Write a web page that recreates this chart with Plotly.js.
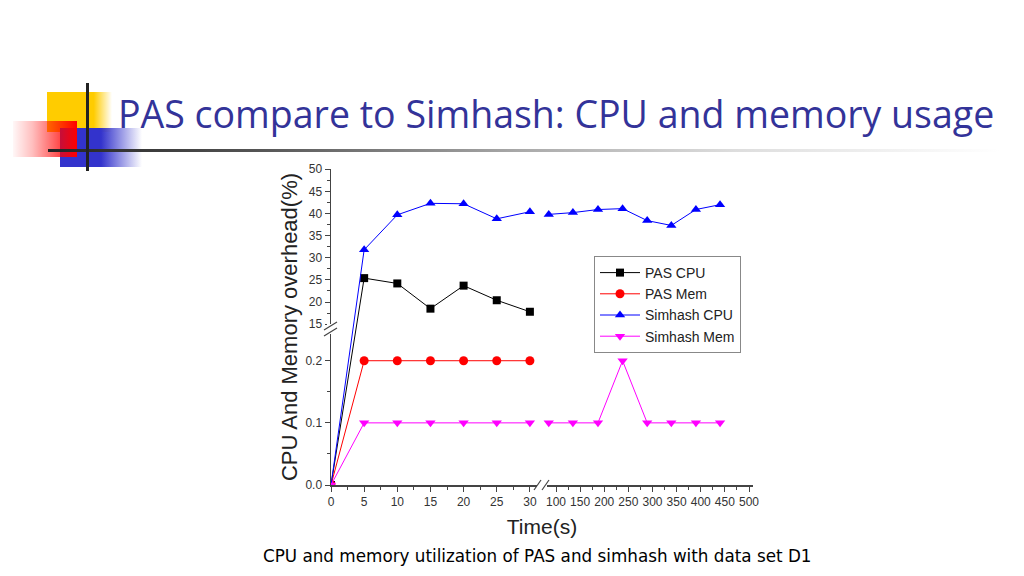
<!DOCTYPE html>
<html>
<head>
<meta charset="utf-8">
<script src="https://cdn.plot.ly/plotly-3.0.1.min.js"></script>
<style>html,body{margin:0;padding:0;background:#fff;}#chart{width:1024px;height:576px;}</style>
</head>
<body>
<div id="chart"></div>
<script>
// ---- data ----
const timesA = [0, 5, 10, 15, 20, 25, 30];
const timesB = [85, 135, 187, 238, 289, 339, 390, 440];
const pasCpu = [0, 25.4, 24.2, 18.5, 23.7, 20.4, 17.8];
const pasMem = [0, 0.2, 0.2, 0.2, 0.2, 0.2, 0.2];
const simCpuA = [0, 31.8, 39.7, 42.3, 42.2, 38.8, 40.4];
const simCpuB = [39.8, 40.2, 40.9, 41.1, 38.4, 37.3, 40.9, 42.0];
const simMemA = [0, 0.1, 0.1, 0.1, 0.1, 0.1, 0.1];
const simMemB = [0.1, 0.1, 0.1, 0.2, 0.1, 0.1, 0.1, 0.1];

const xTicksA = [0, 5, 10, 15, 20, 25, 30];
const xTicksB = [100, 150, 200, 250, 300, 350, 400, 450, 500];
const yTicksLow = [0, 0.1, 0.2];
const yTickTextLow = ['0.0', '0.1', '0.2'];
const yTicksHigh = [15, 20, 25, 30, 35, 40, 45, 50];

// ---- broken-axis scales (piecewise linear) ----
function gx(x) { return x <= 50 ? x * 6.63 : 225 + (x - 100) * 0.4825; }
function fy(v) { return v <= 1 ? v * 622 : 161 + (v - 15) * 4.43; }

// plot area in pixels
const L = 331, R = 753, T = 169, B = 485, W = 1024, H = 576;
const pw = R - L, ph = B - T;
function px(x) { return (x - L) / pw; }
function py(y) { return (B - y) / ph; }

function mids(a, f) { const o = []; for (let i = 0; i < a.length - 1; i++) o.push(f((a[i] + a[i + 1]) / 2)); return o; }

function series(name, a, b, color, symbol, size) {
  let x = timesA.map(gx), y = a.map(fy);
  if (b) { x = x.concat([null], timesB.map(gx)); y = y.concat([null], b.map(fy)); }
  return {
    type: 'scatter', mode: 'lines+markers', name: name, x: x, y: y,
    connectgaps: false,
    line: { color: color, width: 1 },
    marker: { color: color, symbol: symbol, size: size }
  };
}

const traces = [
  series('PAS CPU', pasCpu, null, '#000000', 'square', 8),
  series('PAS Mem', pasMem, null, '#ff0000', 'circle', 9),
  series('Simhash CPU', simCpuA, simCpuB, '#0000ff', 'triangle-up', 9),
  series('Simhash Mem', simMemA, simMemB, '#ff00ff', 'triangle-down', 9)
];

// ---- decorative slide graphics ----
const deco = "<svg xmlns='http://www.w3.org/2000/svg' width='1024' height='576' viewBox='0 0 1024 576'>" +
  "<defs>" +
  "<linearGradient id='gy'><stop offset='0' stop-color='#ffcc00'/><stop offset='0.72' stop-color='#ffcc00'/><stop offset='1' stop-color='#ffcc00' stop-opacity='0'/></linearGradient>" +
  "<linearGradient id='gb'><stop offset='0' stop-color='#3333cc'/><stop offset='0.5' stop-color='#3333cc'/><stop offset='1' stop-color='#3333cc' stop-opacity='0'/></linearGradient>" +
  "<linearGradient id='gr'><stop offset='0' stop-color='#ff0000' stop-opacity='0.03'/><stop offset='0.3' stop-color='#ff0000' stop-opacity='0.25'/><stop offset='1' stop-color='#ff0000'/></linearGradient>" +
  "<linearGradient id='gl'><stop offset='0' stop-color='#222222'/><stop offset='0.22' stop-color='#555555'/><stop offset='0.5' stop-color='#aaaaaa'/><stop offset='0.72' stop-color='#dddddd'/><stop offset='1' stop-color='#ffffff'/></linearGradient>" +
  "</defs>" +
  "<rect x='47' y='92' width='65' height='40' fill='url(#gy)'/>" +
  "<rect x='60' y='128' width='82' height='39' fill='url(#gb)'/>" +
  "<rect x='13' y='121' width='64' height='36' fill='url(#gr)'/>" +
  "<rect x='48' y='149' width='952' height='3' fill='url(#gl)'/>" +
  "<rect x='86' y='83' width='3' height='88' fill='#222222'/>" +
  "</svg>";

const axisCol = '#444444';
const tickFont = { family: 'Liberation Sans, Arial, sans-serif', size: 12, color: '#333333' };
const labelFont = { family: 'Liberation Sans, Arial, sans-serif', size: 22, color: '#222222' };

const layout = {
  width: W, height: H,
  margin: { l: L, r: W - R, t: T, b: H - B, pad: 0 },
  paper_bgcolor: '#ffffff', plot_bgcolor: 'rgba(0,0,0,0)',
  title: {
    text: 'PAS compare to Simhash: CPU and memory usage',
    x: 118 / W, xref: 'container', xanchor: 'left',
    y: 1 - 115 / H, yref: 'container', yanchor: 'middle',
    font: { family: 'Open Sans, sans-serif', size: 37.5, color: '#333399' }
  },
  showlegend: true,
  legend: {
    x: px(594), y: py(256), xanchor: 'left', yanchor: 'top',
    bgcolor: '#ffffff', bordercolor: '#888888', borderwidth: 1,
    font: { family: 'Liberation Sans, Arial, sans-serif', size: 14, color: '#222222' },
    tracegroupgap: 0, itemwidth: 40
  },
  xaxis: {
    range: [0, pw], showgrid: false, zeroline: false, fixedrange: true,
    showline: true, linecolor: axisCol, linewidth: 1.5,
    ticks: 'outside', ticklen: 5, tickwidth: 1, tickcolor: axisCol,
    tickmode: 'array',
    tickvals: xTicksA.map(gx).concat(xTicksB.map(gx)),
    ticktext: xTicksA.map(String).concat(xTicksB.map(String)),
    minor: { tickmode: 'array', tickvals: mids(xTicksA, gx).concat(mids(xTicksB, gx)), ticks: 'outside', ticklen: 3, tickcolor: axisCol },
    tickfont: tickFont,
    title: { text: 'Time(s)', font: Object.assign({}, labelFont, { size: 21 }), standoff: 11 },
    automargin: true
  },
  yaxis: {
    range: [0, ph + 0.3], showgrid: false, zeroline: false, fixedrange: true,
    showline: true, linecolor: axisCol, linewidth: 1.5,
    ticks: 'outside', ticklen: 5, tickwidth: 1, tickcolor: axisCol,
    tickmode: 'array',
    tickvals: yTicksLow.map(fy).concat(yTicksHigh.map(fy)),
    ticktext: yTickTextLow.concat(yTicksHigh.map(String)),
    minor: { tickmode: 'array', tickvals: mids(yTicksLow, fy).concat(mids(yTicksHigh, fy)), ticks: 'outside', ticklen: 3, tickcolor: axisCol },
    tickfont: tickFont,
    title: { text: 'CPU And Memory overhead(%)', font: labelFont, standoff: 1 },
    automargin: true
  },
  images: [{
    source: 'data:image/svg+xml;utf8,' + encodeURIComponent(deco),
    xref: 'paper', yref: 'paper',
    x: px(0), y: py(0), sizex: W / pw, sizey: H / ph,
    xanchor: 'left', yanchor: 'top', sizing: 'stretch', layer: 'below'
  }],
  shapes: [
    // y-axis break
    { type: 'rect', xref: 'paper', yref: 'paper', x0: px(327), x1: px(336), y0: py(334), y1: py(324), fillcolor: '#ffffff', line: { width: 0 } },
    { type: 'line', xref: 'paper', yref: 'paper', x0: px(324), y0: py(330), x1: px(337), y1: py(322), line: { color: axisCol, width: 1.2 } },
    { type: 'line', xref: 'paper', yref: 'paper', x0: px(324), y0: py(336), x1: px(337), y1: py(328), line: { color: axisCol, width: 1.2 } },
    // x-axis break
    { type: 'rect', xref: 'paper', yref: 'paper', x0: px(537), x1: px(547), y0: py(488), y1: py(482), fillcolor: '#ffffff', line: { width: 0 } },
    { type: 'line', xref: 'paper', yref: 'paper', x0: px(534), y0: py(490), x1: px(541), y1: py(480), line: { color: axisCol, width: 1.2 } },
    { type: 'line', xref: 'paper', yref: 'paper', x0: px(542), y0: py(490), x1: px(549), y1: py(480), line: { color: axisCol, width: 1.2 } }
  ],
  annotations: [{
    text: 'CPU and memory utilization of PAS and simhash with data set D1',
    xref: 'paper', yref: 'paper', x: px(537), y: py(556), xanchor: 'center', yanchor: 'middle',
    showarrow: false,
    font: { family: 'DejaVu Sans, sans-serif', size: 16.8, color: '#000000' }
  }]
};

Plotly.newPlot('chart', traces, layout, { staticPlot: true, displayModeBar: false });
</script>
</body>
</html>
